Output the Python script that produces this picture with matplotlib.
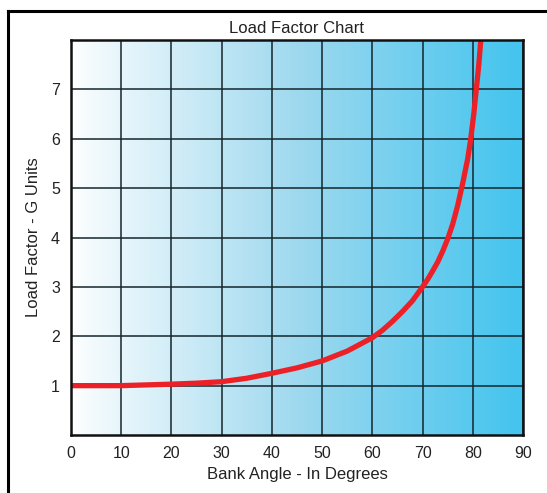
import matplotlib
matplotlib.use("Agg")
import matplotlib.pyplot as plt
import numpy as np
from matplotlib.colors import LinearSegmentedColormap
from matplotlib.lines import Line2D

# values
bank_angle = [0, 10, 15, 20, 25, 30, 35, 40, 45, 50, 55, 60, 62, 64, 66,
              68, 70, 71, 72, 73, 74, 75, 76, 77, 78, 79, 79.6, 80.2, 80.7,
              81.2, 81.6]
load_factor = [1.0, 1.0, 1.015, 1.03, 1.05, 1.08, 1.15, 1.25, 1.36, 1.5,
               1.7, 1.97, 2.12, 2.3, 2.5, 2.72, 3.0, 3.15, 3.32, 3.5, 3.72,
               3.97, 4.27, 4.65, 5.1, 5.6, 6.0, 6.5, 7.0, 7.5, 8.0]
x_ticks = [0, 10, 20, 30, 40, 50, 60, 70, 80, 90]
y_ticks = [1, 2, 3, 4, 5, 6, 7]

plt.rcParams['font.family'] = ['Liberation Sans', 'DejaVu Sans']

fig = plt.figure(figsize=(5.47, 4.93), dpi=100)
ax = fig.add_axes([0.1298, 0.1176, 0.8263, 0.8013])

# background gradient, white to cyan
cmap = LinearSegmentedColormap.from_list(
    "bg", [(0.0, "#ffffff"), (0.05, "#f2fafd"), (0.5, "#9fd9ef"),
           (1.0, "#43c4ee")])
grad = np.linspace(0, 1, 256).reshape(1, -1)
ax.imshow(grad, cmap=cmap, aspect='auto', extent=[0, 90, 0, 8],
          origin='lower', zorder=0)

ax.plot(bank_angle, load_factor, color='#ec2128', linewidth=3.8,
        solid_capstyle='butt', solid_joinstyle='round', zorder=3)

ax.set_xlim(0, 90)
ax.set_ylim(0, 8)
ax.set_xticks(x_ticks)
ax.set_yticks(y_ticks)
ax.tick_params(length=0, labelsize=11.5, pad=8, colors='#222222')
ax.grid(True, color='#14262c', linewidth=1.1, zorder=2)
ax.set_axisbelow(False)
for s in ax.spines.values():
    s.set_linewidth(1.8)
    s.set_color('#111111')
    s.set_zorder(4)

ax.set_title("Load Factor Chart", fontsize=12, pad=5, color='#222222')
ax.set_xlabel("Bank Angle - In Degrees", fontsize=12, labelpad=4,
              color='#222222')
ax.set_ylabel("Load Factor - G Units", fontsize=12, labelpad=7,
              color='#222222')

# outer frame (left and top edges)
fl = 8 / 547
ft = 1 - 11 / 493
fig.add_artist(Line2D([fl, fl], [0, ft], transform=fig.transFigure,
                      color='black', linewidth=2.2))
fig.add_artist(Line2D([fl, 1], [ft, ft], transform=fig.transFigure,
                      color='black', linewidth=2.2))

fig.savefig("out.png", dpi=100)
